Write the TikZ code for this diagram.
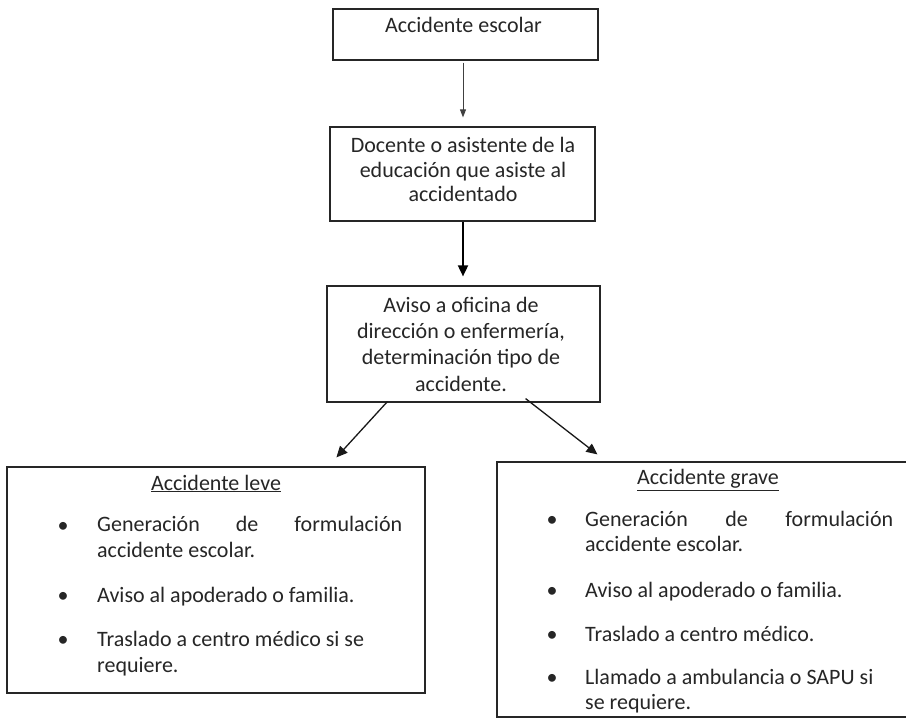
\documentclass[tikz,border=0pt]{standalone}
\usepackage{fontspec}
\setmainfont{Carlito}
\usetikzlibrary{arrows.meta}
\begin{document}
\begin{tikzpicture}[x=1pt,y=-1pt,
  boxline/.style={draw=black!85,line width=1.2pt,inner sep=0pt,fill=none},
  txt/.style={font=\fontsize{22}{26}\selectfont,text=black!85,inner sep=0pt},
  lnc/.style={txt,text height=15pt,text depth=5pt},
  lnw/.style={lnc,anchor=west},
  bul/.style={txt},
  thinarrow/.style={draw=black!75,line width=0.9pt,-{Triangle[length=8pt,width=6pt]}},
  thickarrow/.style={draw=black,line width=1.8pt,-{Triangle[length=11pt,width=10pt]}},
  diagarrow/.style={draw=black!90,line width=1.3pt,-{Triangle[length=11pt,width=10pt]}}]
\clip (0,0) rectangle (906,719);
\fill[white] (0,0) rectangle (906,719);
% boxes
\node[boxline,minimum width=265pt,minimum height=51pt] (b1) at (465.5,34.5) {};
\node[boxline,minimum width=265pt,minimum height=94pt] (b2) at (462.5,174) {};
\node[boxline,minimum width=273pt,minimum height=116pt] (b3) at (463.5,344) {};
\node[boxline,minimum width=418pt,minimum height=226pt] (leve) at (216,580) {};
\node[boxline,minimum width=433pt,minimum height=255pt] (grave) at (713.5,589.5) {};
% box texts
\node[lnc] (t1) at (463.5,28) {Accidente escolar};
\node[lnc] (t2a) at (463,148) {Docente o asistente de la};
\node[lnc] (t2b) at (463,173) {educación que asiste al};
\node[lnc] (t2c) at (463,197) {accidentado};
\node[lnc] (t3a) at (461,308) {Aviso a oficina de};
\node[lnc] (t3b) at (461,334) {dirección o enfermería,};
\node[lnc] (t3c) at (461,360) {determinación tipo de};
\node[lnc] (t3d) at (461,387) {accidente.};
% left box
\node[lnc] (lt) at (216,485) {\underline{Accidente leve}};
\node[bul] (lb1) at (63,527) {•};
\node[lnw,text width=305pt] (l1a) at (97,527) {Generación\hfill de\hfill formulación};
\node[lnw] (l1b) at (97,553) {accidente escolar.};
\node[bul] (lb2) at (63,597) {•};
\node[lnw] (l2) at (97,597) {Aviso al apoderado o familia.};
\node[bul] (lb3) at (63,641) {•};
\node[lnw] (l3a) at (97,641) {Traslado a centro médico si se};
\node[lnw] (l3b) at (97,667) {requiere.};
% right box
\node[lnc] (rt) at (708,480) {\underline{Accidente grave}};
\node[bul] (rb1) at (552,521) {•};
\node[lnw,text width=308pt] (r1a) at (585,521) {Generación\hfill de\hfill formulación};
\node[lnw] (r1b) at (585,546) {accidente escolar.};
\node[bul] (rb2) at (552,592) {•};
\node[lnw] (r2) at (585,592) {Aviso al apoderado o familia.};
\node[bul] (rb3) at (552,636) {•};
\node[lnw] (r3) at (585,636) {Traslado a centro médico.};
\node[bul] (rb4) at (552,679) {•};
\node[lnw] (r4a) at (585,679) {Llamado a ambulancia o SAPU si};
\node[lnw] (r4b) at (585,704) {se requiere.};
% connectors
\coordinate (a1s) at ([xshift=-2.5pt,yshift=-2pt]b1.south);
\coordinate (a1e) at ([xshift=0.5pt,yshift=9pt]b2.north);
\coordinate (a2s) at ([xshift=0.5pt]b2.south);
\coordinate (a2e) at ([xshift=-0.5pt,yshift=9pt]b3.north);
\coordinate (a3s) at ([xshift=61pt,yshift=1pt]b3.south west);
\coordinate (a3e) at ([xshift=330pt,yshift=9pt]leve.north west);
\coordinate (a4s) at ([xshift=-75pt,yshift=4pt]b3.south east);
\coordinate (a4e) at ([xshift=101pt,yshift=7pt]grave.north west);
\draw[thinarrow] (a1s) -- (a1e);
\draw[thickarrow] (a2s) -- (a2e);
\draw[diagarrow] (a3s) -- (a3e);
\draw[diagarrow] (a4s) -- (a4e);
\end{tikzpicture}
\end{document}
